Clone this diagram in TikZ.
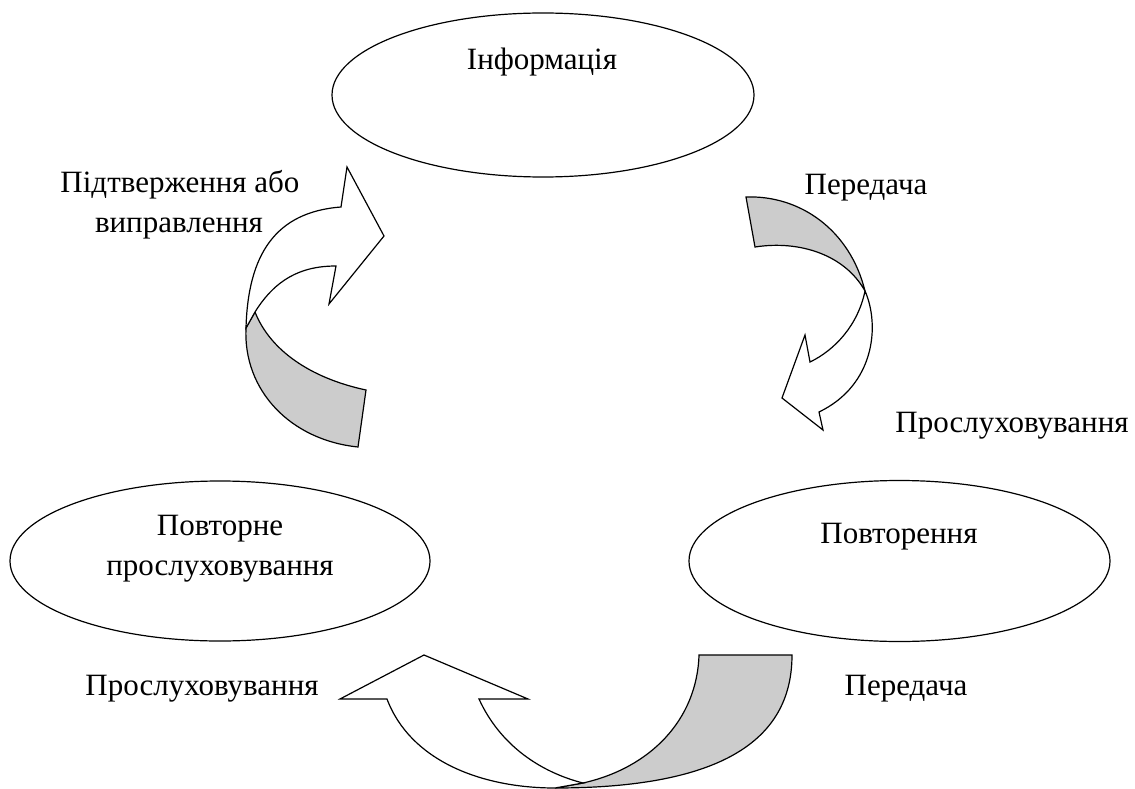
\documentclass[tikz,border=0pt]{standalone}
\usepackage{fontspec}
\setmainfont{Liberation Serif}
\usetikzlibrary{shapes.geometric}
\definecolor{bandgray}{HTML}{CCCCCC}
\tikzset{
  oval/.style={ellipse, draw=black, line width=1.2pt, fill=white, inner sep=0pt},
  lbl/.style={anchor=base, inner sep=0pt, font=\fontsize{31}{36}\selectfont},
  front/.style={draw=black, line width=1.2pt, fill=white, line join=miter},
  back/.style={draw=black, line width=1.2pt, fill=bandgray, line join=miter}
}
\begin{document}
\begin{tikzpicture}[x=1pt, y=-1pt]
\useasboundingbox (0,0) rectangle (1135,789);

% stages of the cycle
\node[oval, minimum width=422pt, minimum height=164pt] (info) at (543,95) {};
\node[oval, minimum width=421pt, minimum height=161pt] (rep) at (899.5,561) {};
\node[oval, minimum width=420pt, minimum height=160pt] (relisten) at (220,561) {};

\node[lbl] (tinfo) at (542,70) {Інформація};
\node[lbl] (trep) at (899,543) {Повторення};
\node[lbl] (trel1) at (220,535) {Повторне};
\node[lbl] (trel2) at (220,575) {прослуховування};

% curved arrow on the left: confirmation
\coordinate (lx) at (255,312);
\draw[back] (lx) -- (246,328) .. controls (243,390) and (290,440) .. (358,447)
  -- (366,390) .. controls (310,378) and (270,350) .. (lx) -- cycle;
\draw[front] (lx) .. controls (275,280) and (300,266) .. (336,266)
  -- (329,304) -- (384,236) -- (347,167) -- (341,207)
  .. controls (275,212) and (248,255) .. (246,328) -- cycle;

% curved arrow on the right: transmission and listening
\coordinate (rx) at (865,291);
\draw[back] (746,197) -- (755,247) .. controls (800,240) and (845,255) .. (rx)
  .. controls (850,230) and (800,195) .. (746,197) -- cycle;
\draw[front] (rx) .. controls (880,325) and (875,385) .. (819,412)
  -- (823,430) -- (782,398) -- (805,335) -- (810,362)
  .. controls (835,350) and (858,325) .. (rx) -- cycle;

% curved arrow at the bottom
\coordinate (bx) at (583,783);
\coordinate (bb) at (555,788);
\draw[back] (699,655) -- (792,655) .. controls (792,735) and (730,788) .. (bb)
  -- (bx) .. controls (650,768) and (697,720) .. (699,655) -- cycle;
\draw[front] (387,699) .. controls (410,760) and (480,788) .. (bb)
  -- (bx) .. controls (540,772) and (500,745) .. (479,699)
  -- (528,699) -- (424,655) -- (340,699) -- cycle;

% arrow captions
\node[lbl] (tconf1) at (180,193) {Підтверження або};
\node[lbl] (tconf2) at (179,232) {виправлення};
\node[lbl] (tsend1) at (866,194) {Передача};
\node[lbl] (tlist1) at (1012,432) {Прослуховування};
\node[lbl] (tlist2) at (202,695) {Прослуховування};
\node[lbl] (tsend2) at (906,695) {Передача};
\end{tikzpicture}
\end{document}
